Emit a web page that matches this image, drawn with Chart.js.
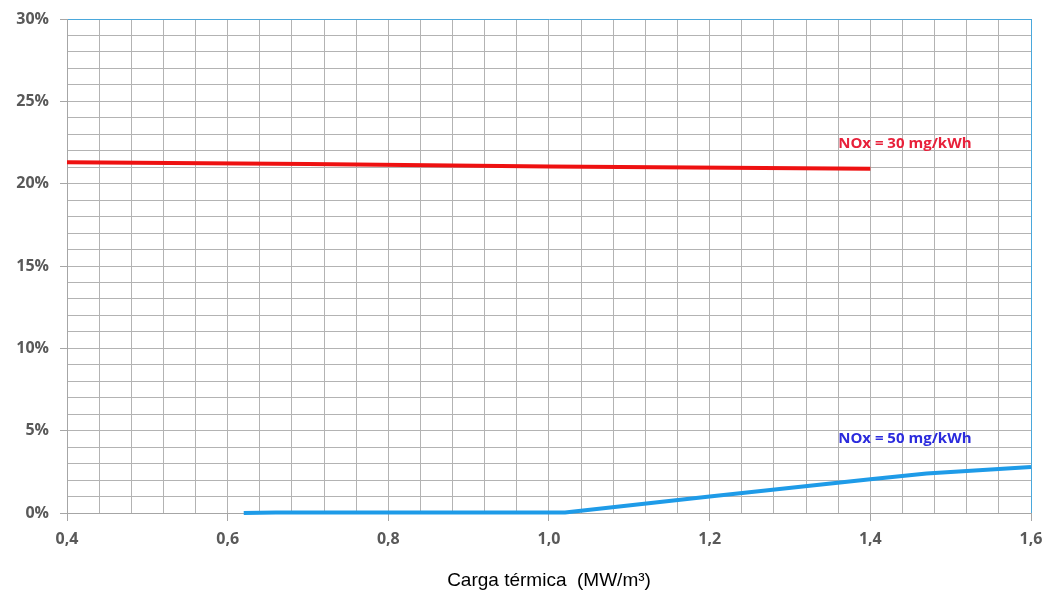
<!DOCTYPE html>
<html>
<head>
<meta charset="utf-8">
<script src="https://cdn.jsdelivr.net/npm/chart.js@4.4.1/dist/chart.umd.min.js"></script>
<style>
  html, body { margin: 0; padding: 0; background: #fff; }
  #wrap { width: 1052px; height: 596px; }
</style>
</head>
<body>
<div id="wrap"><canvas id="chart" width="1052" height="596"></canvas></div>
<script>
// carga térmica (MW/m3) vs %
const redLoad = [0.4, 0.7, 1.0, 1.4];
const redPct = [21.3, 21.2, 21.05, 20.9];
const blueLoad = [0.62, 0.66, 1.02, 1.2, 1.4, 1.47, 1.6];
const bluePct = [0, 0.03, 0.03, 1.0, 2.05, 2.4, 2.8];
const seriesLabels = ["NOx = 30 mg/kWh", "NOx = 50 mg/kWh"];
const labelPos = [[1.36, 22.4], [1.36, 4.5]];
const labelColors = ["#e8203a", "#2b2bdd"];

const toPoints = (xs, ys) => xs.map((x, i) => ({ x: x, y: ys[i] }));

// series names written inside the plot
const seriesText = {
  id: "seriesText",
  afterDatasetsDraw(chart) {
    const { ctx, scales } = chart;
    ctx.save();
    ctx.font = "bold 15px 'Open Sans', sans-serif";
    ctx.textBaseline = "middle";
    seriesLabels.forEach((txt, i) => {
      ctx.fillStyle = labelColors[i];
      ctx.fillText(txt, scales.x.getPixelForValue(labelPos[i][0]), scales.y.getPixelForValue(labelPos[i][1]));
    });
    ctx.restore();
  }
};

const isMajor = (v, step) => Math.abs(v / step - Math.round(v / step)) < 1e-6;

new Chart(document.getElementById("chart"), {
  type: "line",
  data: {
    datasets: [
      { data: toPoints(redLoad, redPct), borderColor: "#ee1111", borderWidth: 4, pointRadius: 0, tension: 0, clip: false },
      { data: toPoints(blueLoad, bluePct), borderColor: "#1e9be8", borderWidth: 4, pointRadius: 0, tension: 0, clip: false }
    ]
  },
  options: {
    responsive: false,
    animation: false,
    layout: { padding: { top: 18, right: 21, left: 0, bottom: 0 } },
    plugins: { legend: { display: false }, tooltip: { enabled: false } },
    scales: {
      x: {
        type: "linear",
        min: 0.4,
        max: 1.6,
        afterFit: (s) => { s.height = 83; },
        border: { color: "#a6a6a6", width: 1 },
        grid: {
          color: (c) => (c.tick && Math.abs(c.tick.value - 1.6) < 1e-6 ? "#4aa8dc" : "#b3b3b3"),
          tickColor: (c) => (c.tick && isMajor(c.tick.value, 0.2) ? "#a6a6a6" : "rgba(0,0,0,0)"),
          tickLength: 8,
          lineWidth: 1
        },
        ticks: {
          stepSize: 0.04,
          autoSkip: false,
          maxRotation: 0,
          color: "#595959",
          font: { family: "'Open Sans', sans-serif", size: 16, weight: "bold" },
          padding: 9,
          callback: (v) => (isMajor(v, 0.2) ? v.toFixed(1).replace(".", ",") : "")
        },
        title: {
          display: true,
          text: "Carga térmica  (MW/m³)",
          color: "#000",
          font: { family: "'Liberation Sans', Arial, sans-serif", size: 19 },
          padding: { top: 6 }
        }
      },
      y: {
        min: 0,
        max: 30,
        afterFit: (s) => { s.width = 67; },
        border: { color: "#a6a6a6", width: 1 },
        grid: {
          color: (c) => (c.tick && c.tick.value === 30 ? "#4aa8dc" : "#b3b3b3"),
          tickColor: (c) => (c.tick && c.tick.value % 5 === 0 ? "#a6a6a6" : "rgba(0,0,0,0)"),
          tickLength: 7,
          lineWidth: 1
        },
        ticks: {
          stepSize: 1,
          autoSkip: false,
          color: "#595959",
          font: { family: "'Open Sans', sans-serif", size: 16, weight: "bold", lineHeight: 1 },
          padding: 11,
          callback: (v) => (v % 5 === 0 ? v + "%" : "")
        }
      }
    }
  },
  plugins: [seriesText]
});
</script>
</body>
</html>
